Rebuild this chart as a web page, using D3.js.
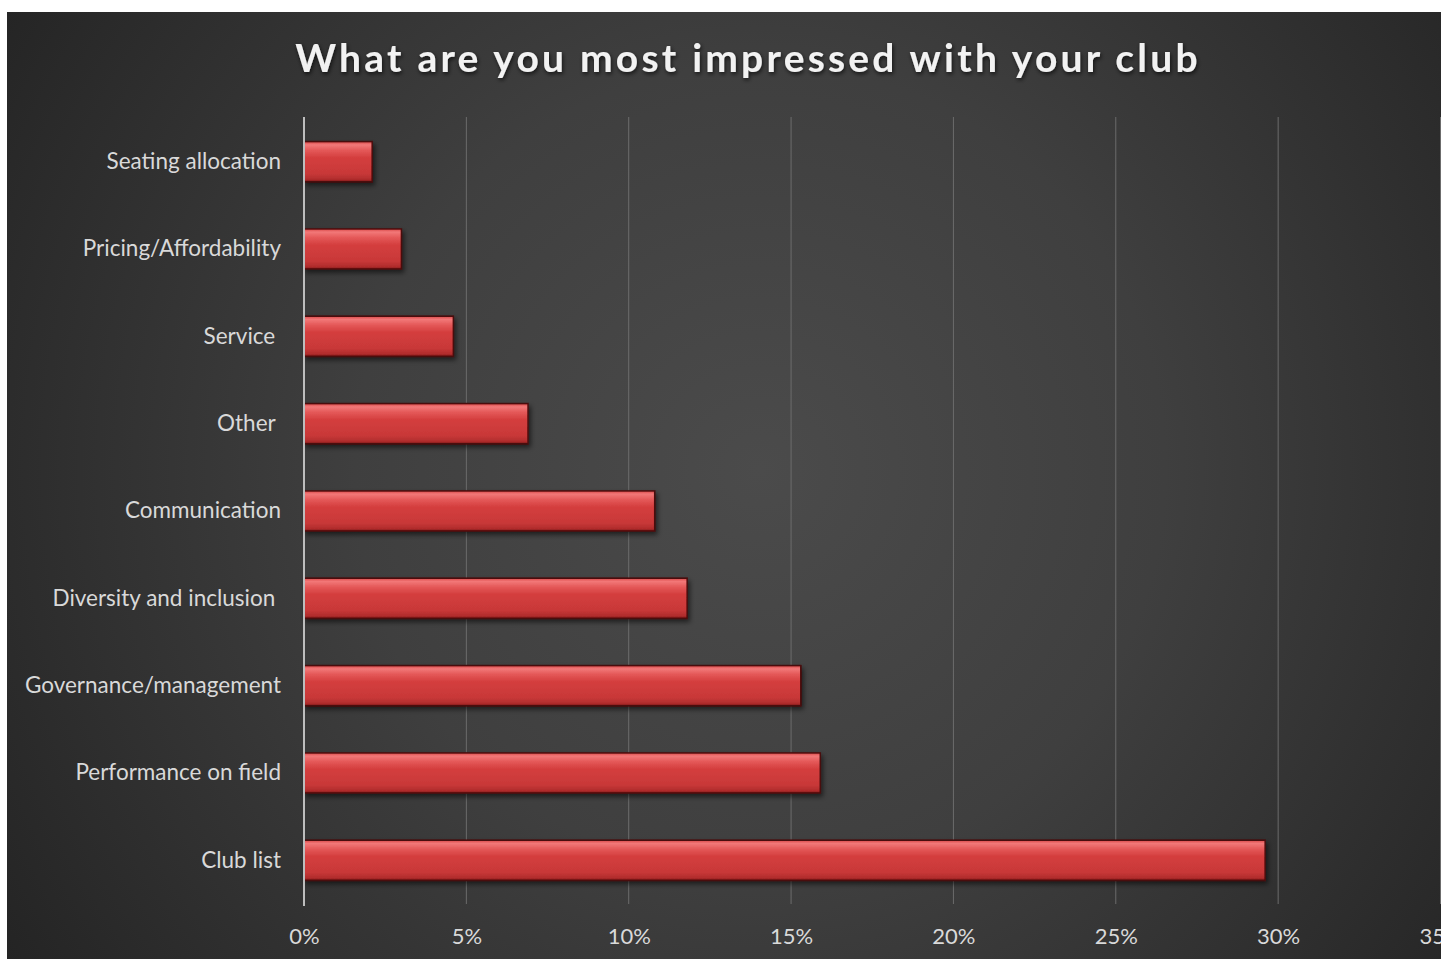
<!DOCTYPE html>
<html>
<head>
<meta charset="utf-8">
<script src="https://cdn.jsdelivr.net/npm/d3@7"></script>
<style>
  html, body { margin: 0; padding: 0; background: #ffffff; }
  svg { display: block; }
</style>
</head>
<body>
<svg id="chart" width="1441" height="959"></svg>
<script>
// Survey answers, listed top to bottom
const categories = [
  "Seating allocation",
  "Pricing/Affordability",
  "Service ",
  "Other ",
  "Communication",
  "Diversity and inclusion ",
  "Governance/management",
  "Performance on field",
  "Club list"
];
const shares = [0.021, 0.030, 0.046, 0.069, 0.108, 0.118, 0.153, 0.159, 0.296];
const tickValues = [0, 0.05, 0.10, 0.15, 0.20, 0.25, 0.30, 0.35];
const tickLabels = ["0%", "5%", "10%", "15%", "20%", "25%", "30%", "35%"];
const title = "What are you most impressed with your club";

const W = 1441, H = 959;
const svg = d3.select("#chart");
const defs = svg.append("defs");

// Dark panel with a soft central glow
const bg = defs.append("radialGradient").attr("id", "panelGlow")
  .attr("gradientUnits", "userSpaceOnUse")
  .attr("cx", 760).attr("cy", 470).attr("r", 900);
bg.append("stop").attr("offset", "0%").attr("stop-color", "#4b4b4b");
bg.append("stop").attr("offset", "45%").attr("stop-color", "#3f3f3f");
bg.append("stop").attr("offset", "100%").attr("stop-color", "#242424");

// Glossy red bar fill
const barFill = defs.append("linearGradient").attr("id", "barFill")
  .attr("x1", 0).attr("y1", 0).attr("x2", 0).attr("y2", 1);
[["0%", "#d94848"], ["8%", "#f27878"], ["22%", "#e45858"], ["40%", "#d43e3e"],
 ["80%", "#c83838"], ["94%", "#b02c2c"], ["100%", "#7a1a1a"]]
  .forEach(([o, c]) => barFill.append("stop").attr("offset", o).attr("stop-color", c));

const shadow = defs.append("filter").attr("id", "barShadow")
  .attr("x", "-5%").attr("y", "-30%").attr("width", "115%").attr("height", "170%");
shadow.append("feDropShadow").attr("dx", 2).attr("dy", 3).attr("stdDeviation", 2.5)
  .attr("flood-color", "#000").attr("flood-opacity", 0.55);

const titleShadow = defs.append("filter").attr("id", "titleShadow")
  .attr("x", "-5%").attr("y", "-30%").attr("width", "110%").attr("height", "170%");
titleShadow.append("feDropShadow").attr("dx", 1).attr("dy", 2).attr("stdDeviation", 2)
  .attr("flood-color", "#000").attr("flood-opacity", 0.7);

svg.append("rect").attr("x", 7).attr("y", 12).attr("width", W - 7).attr("height", H - 12)
  .attr("fill", "url(#panelGlow)");

const font = "Lato, 'Open Sans', sans-serif";

const x = d3.scaleLinear().domain([0, 0.35]).range([304, 1440.5]);
const y = d3.scaleBand().domain(categories).range([118, 904])
  .paddingInner(0.54).paddingOuter(0.27);

// Vertical gridlines
svg.append("g").selectAll("line").data(tickValues.slice(1)).join("line")
  .attr("x1", d => x(d)).attr("x2", d => x(d))
  .attr("y1", 117).attr("y2", 904)
  .attr("stroke", "#6c6c6c").attr("stroke-width", 1);

// Bars
svg.append("g").selectAll("rect").data(categories).join("rect")
  .attr("x", x(0))
  .attr("y", d => y(d))
  .attr("width", (d, i) => x(shares[i]) - x(0))
  .attr("height", y.bandwidth())
  .attr("fill", "url(#barFill)")
  .attr("stroke", "#4a0c0c").attr("stroke-width", 1.5)
  .attr("filter", "url(#barShadow)");

// Category axis line
svg.append("line").attr("x1", x(0)).attr("x2", x(0)).attr("y1", 117).attr("y2", 906)
  .attr("stroke", "#bdbdbd").attr("stroke-width", 2);

// Category labels
const yAxis = d3.axisLeft(y).tickSize(0).tickPadding(23);
const gy = svg.append("g").attr("transform", `translate(${x(0)},0)`).call(yAxis);
gy.select(".domain").remove();
gy.selectAll("text")
  .attr("fill", "#d9d9d9").attr("font-family", font).attr("font-size", 22.5)
  .style("white-space", "pre");

// Percentage axis
const xAxis = d3.axisBottom(x).tickValues(tickValues)
  .tickFormat((d, i) => tickLabels[i]).tickSize(0).tickPadding(24);
const gx = svg.append("g").attr("transform", "translate(0,904)").call(xAxis);
gx.select(".domain").remove();
gx.selectAll("text")
  .attr("fill", "#d9d9d9").attr("font-family", font).attr("font-size", 22);

// Title
svg.append("text").attr("x", 748).attr("y", 72)
  .attr("text-anchor", "middle")
  .attr("fill", "#f2f2f2").attr("font-family", font)
  .attr("font-weight", "bold").attr("font-size", 39)
  .attr("letter-spacing", 3.2)
  .attr("filter", "url(#titleShadow)")
  .text(title);
</script>
</body>
</html>
